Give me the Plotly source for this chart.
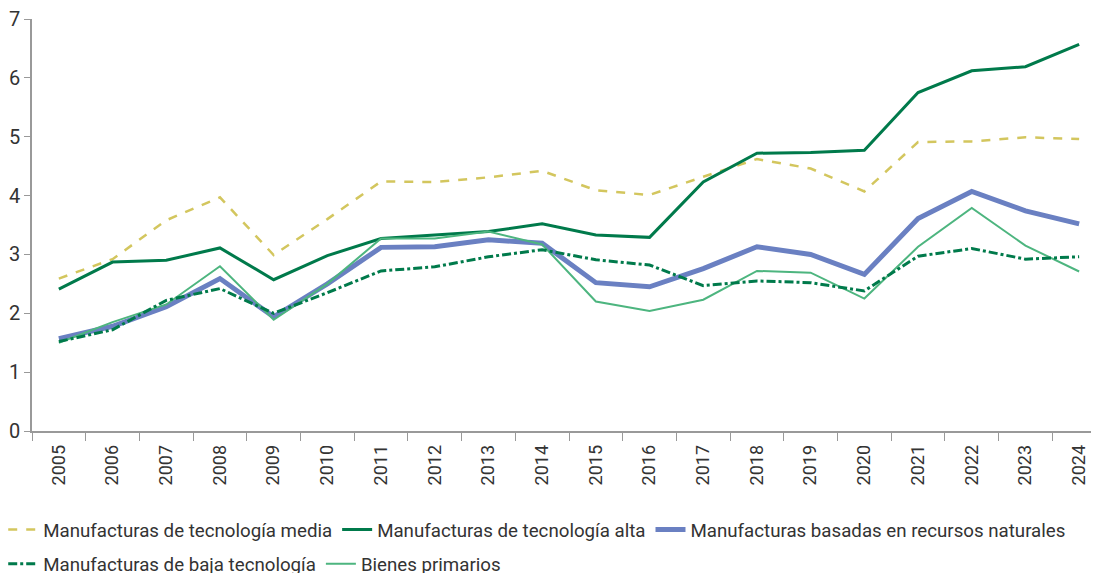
import plotly.graph_objects as go

years = [str(y) for y in range(2005, 2025)]

media = [2.59, 2.92, 3.58, 3.97, 2.99, 3.60, 4.24, 4.23, 4.31, 4.42, 4.09, 4.01, 4.32, 4.62, 4.46, 4.07, 4.91, 4.92, 4.99, 4.96]
alta = [2.41, 2.87, 2.90, 3.11, 2.57, 2.98, 3.27, 3.33, 3.39, 3.52, 3.33, 3.29, 4.23, 4.72, 4.73, 4.77, 5.75, 6.12, 6.19, 6.57]
recursos = [1.57, 1.78, 2.11, 2.59, 1.94, 2.50, 3.12, 3.13, 3.25, 3.19, 2.52, 2.45, 2.76, 3.13, 3.00, 2.66, 3.61, 4.07, 3.74, 3.52]
baja = [1.52, 1.72, 2.22, 2.42, 2.00, 2.35, 2.72, 2.79, 2.96, 3.08, 2.91, 2.82, 2.47, 2.55, 2.52, 2.38, 2.97, 3.10, 2.92, 2.96]
primarios = [1.50, 1.85, 2.15, 2.80, 1.89, 2.50, 3.27, 3.27, 3.39, 3.17, 2.20, 2.04, 2.23, 2.72, 2.69, 2.25, 3.13, 3.79, 3.15, 2.71]

names = {
    "media": "Manufacturas de tecnología media",
    "alta": "Manufacturas de tecnología alta",
    "recursos": "Manufacturas basadas en recursos naturales",
    "baja": "Manufacturas de baja tecnología",
    "primarios": "Bienes primarios",
}

FONT = "Roboto, sans-serif"

fig = go.Figure()
fig.add_trace(go.Scatter(x=years, y=media, name=names["media"], mode="lines",
                         line=dict(color="#D3C65E", width=2.5, dash="dash"), legend="legend"))
fig.add_trace(go.Scatter(x=years, y=alta, name=names["alta"], mode="lines",
                         line=dict(color="#007A4B", width=3), legend="legend"))
fig.add_trace(go.Scatter(x=years, y=recursos, name=names["recursos"], mode="lines",
                         line=dict(color="#6A80C2", width=5), legend="legend"))
fig.add_trace(go.Scatter(x=years, y=primarios, name=names["primarios"], mode="lines",
                         line=dict(color="#4DB57F", width=2), legend="legend2"))
fig.add_trace(go.Scatter(x=years, y=baja, name=names["baja"], mode="lines",
                         line=dict(color="#007A4B", width=3, dash="dashdot"), legend="legend2"))

fig.update_layout(
    width=1099, height=565,
    margin=dict(l=24, r=1, t=11, b=142, autoexpand=False),
    plot_bgcolor="white", paper_bgcolor="white",
    font=dict(family=FONT, size=18, color="#333333"),
    showlegend=True,
    legend=dict(orientation="h", x=-0.0268, y=-0.194, xanchor="left", yanchor="top",
                font=dict(size=18.7, color="#333333"), traceorder="normal", itemwidth=30),
    legend2=dict(orientation="h", x=-0.0268, y=-0.277, xanchor="left", yanchor="top",
                 font=dict(size=18.7, color="#333333"), traceorder="reversed", itemwidth=30),
)
fig.update_xaxes(range=[-0.5, 19.5], showline=True, linecolor="#999999", linewidth=1.5, showgrid=False,
                 ticks="outside", tickson="boundaries", ticklen=8, tickcolor="#999999",
                 tickangle=-90, tickfont=dict(size=18), ticklabelstandoff=5, zeroline=False)
fig.update_yaxes(range=[0, 7], dtick=1, showline=True, linecolor="#999999", linewidth=1.5,
                 showgrid=False, ticks="outside", ticklen=6, tickcolor="#999999",
                 tickfont=dict(size=20), ticklabeloverflow="allow", zeroline=False)

fig.write_html("out.html")
